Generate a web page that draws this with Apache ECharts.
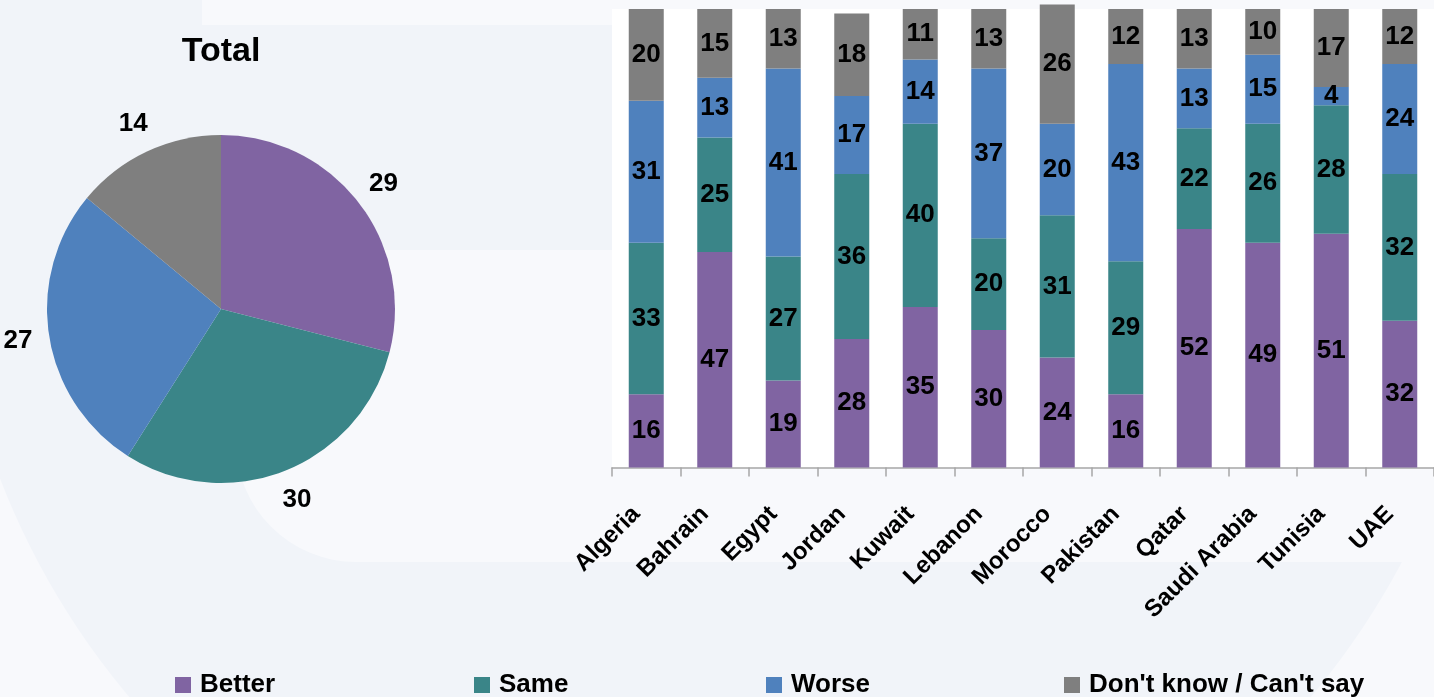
<!DOCTYPE html>
<html>
<head>
<meta charset="utf-8">
<script src="https://cdn.jsdelivr.net/npm/echarts@6/dist/echarts.min.js"></script>
<style>
html,body{margin:0;padding:0;background:#F8F9FC;}
#c{width:1434px;height:697px;}
</style>
</head>
<body>
<div id="c"></div>
<script>
const categories = ['Algeria','Bahrain','Egypt','Jordan','Kuwait','Lebanon','Morocco','Pakistan','Qatar','Saudi Arabia','Tunisia','UAE'];
const better = [16,47,19,28,35,30,24,16,52,49,51,32];
const same   = [33,25,27,36,40,20,31,29,22,26,28,32];
const worse  = [31,13,41,17,14,37,20,43,13,15,4,24];
const dontKnow = [20,15,13,18,11,13,26,12,13,10,17,12];
const seriesNames = ['Better','Same','Worse',"Don't know / Can't say"];
const totalValues = [29,30,27,14];
const colors = ['#8064A2','#3A8588','#4F81BD','#7F7F7F'];

const FONT = "'Liberation Sans', Arial, Helvetica, sans-serif";
const chart = echarts.init(document.getElementById('c'), null, {renderer:'canvas'});

const barLabel = {show:true, position:'inside', color:'#000', fontSize:26, fontWeight:'bold', fontFamily:FONT, textBorderWidth:0};
const barSeries = [better, same, worse, dontKnow].map((d,i)=>({
  name: seriesNames[i], type:'bar', stack:'s', data:d, barWidth:35,
  clip:false, itemStyle:{color:colors[i]}, label:barLabel
}));

const legendX = [175, 474, 766, 1064];
const legends = seriesNames.map((n,i)=>({
  data:[n], left:legendX[i], top:667, icon:'rect', itemWidth:16, itemHeight:16,
  padding:[5,0,5,0],
  textStyle:{fontSize:26, fontWeight:'bold', color:'#000', fontFamily:FONT, padding:[0,0,0,4]},
  selectedMode:false
}));

chart.setOption({
  animation:false,
  backgroundColor:'#F8F9FC',
  textStyle:{fontFamily:FONT},
  graphic:[
    {type:'circle', shape:{cx:720, cy:200, r:772}, style:{fill:'#F1F4F9'}, z:-20},
    {type:'rect', shape:{x:202,y:0,width:1240,height:25}, style:{fill:'#F8F9FC'}, z:-10},
    {type:'rect', shape:{x:236,y:250,width:1210,height:312,r:[0,0,0,120]}, style:{fill:'#F8F9FC'}, z:-10}
  ],
  title:{text:'Total', left:216, textAlign:'center', top:30,
    textStyle:{fontSize:34, fontWeight:'bold', color:'#000', fontFamily:FONT}},
  legend:legends,
  grid:{left:612, right:-4, top:9, bottom:229.5, show:true, backgroundColor:'#FFFFFF', borderWidth:0},
  xAxis:{type:'category', data:categories,
    axisLine:{lineStyle:{color:'#A6A6A6', width:1.5}},
    axisTick:{show:true, alignWithLabel:false, length:9, lineStyle:{color:'#A6A6A6', width:1.5}},
    axisLabel:{rotate:45, interval:0, margin:33, padding:[0,14,0,0], fontSize:24, fontWeight:'bold', color:'#000', fontFamily:FONT}
  },
  yAxis:{type:'value', min:0, max:100, show:false, splitLine:{show:false}},
  series:[
    ...barSeries,
    {type:'pie', center:[221,309], radius:174, startAngle:90, clockwise:true,
      data: seriesNames.map((n,i)=>({name:n, value:totalValues[i], itemStyle:{color:colors[i]}})),
      label:{show:true, position:'outside', formatter:'{c}', overflow:'none', fontSize:26, fontWeight:'bold', color:'#000', fontFamily:FONT, distanceToLabelLine:0},
      labelLine:{show:false, length:31, length2:-14},
      emphasis:{disabled:true}
    }
  ]
});
</script>
</body>
</html>
